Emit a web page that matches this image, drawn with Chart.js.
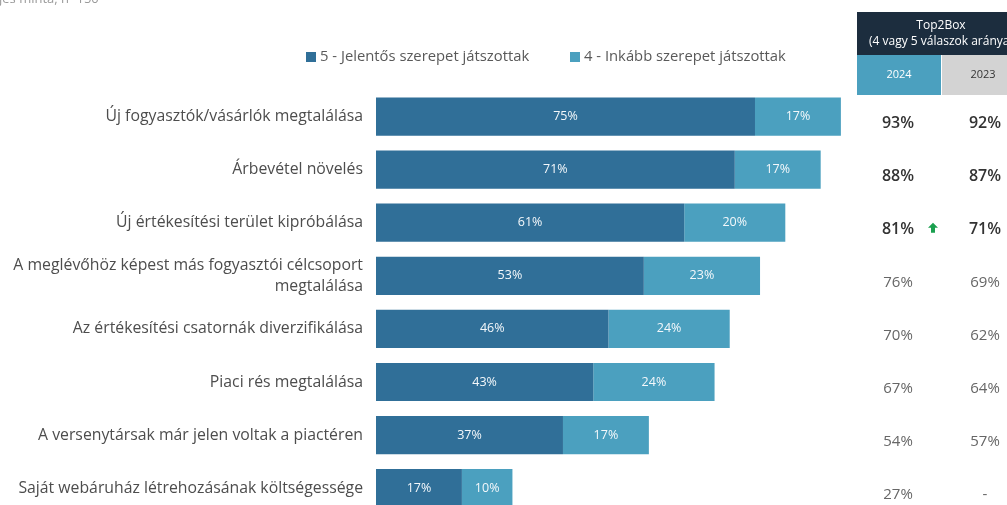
<!DOCTYPE html>
<html lang="hu">
<head>
<meta charset="UTF-8">
<title>Top2Box</title>
<script src="https://cdn.jsdelivr.net/npm/chart.js"></script>
<style>
  body { margin: 0; background: #fff; overflow: hidden; }
  canvas { display: block; }
</style>
</head>
<body>
<canvas id="grafikon" width="1007" height="538"></canvas>
<script>
// kategóriák és az értékek
const kategoriak = [
  'Új fogyasztók/vásárlók megtalálása',
  'Árbevétel növelés',
  'Új értékesítési terület kipróbálása',
  ['A meglévőhöz képest más fogyasztói célcsoport', 'megtalálása'],
  'Az értékesítési csatornák diverzifikálása',
  'Piaci rés megtalálása',
  'A versenytársak már jelen voltak a piactéren',
  'Saját webáruház létrehozásának költségessége'
];
const jelentos = [75, 71, 61, 53, 46, 43, 37, 17];
const inkabb = [17, 17, 20, 23, 24, 24, 17, 10];
const top2024 = [93, 88, 81, 76, 70, 67, 54, 27];
const top2023 = [92, 87, 71, 69, 62, 64, 57, null];
const kiemeltSorok = 3;       // az első három sor félkövér
const novekedesSorok = [2];   // zöld nyíl
const sorozatNevek = ['5 - Jelentős szerepet játszottak', '4 - Inkább szerepet játszottak'];
const evek = ['2024', '2023'];

const SOTET = '#306f98';
const VILAGOS = '#4ba0bf';
const BETU = "'Open Sans', 'DejaVu Sans', sans-serif";

// százalékok a sávokon belül
const savCimkek = {
  id: 'savCimkek',
  afterDatasetsDraw(chart) {
    const ctx = chart.ctx;
    ctx.save();
    ctx.font = '12.5px ' + BETU;
    ctx.fillStyle = '#f4f8fb';
    ctx.textAlign = 'center';
    ctx.textBaseline = 'middle';
    chart.data.datasets.forEach((ds, di) => {
      chart.getDatasetMeta(di).data.forEach((bar, i) => {
        const mid = (bar.x + bar.base) / 2;
        ctx.fillText(ds.data[i] + '%', mid, bar.y);
      });
    });
    ctx.restore();
  }
};

// jelmagyarázat, felső felirat és a Top2Box táblázat
const keret = {
  id: 'keret',
  afterDraw(chart) {
    const ctx = chart.ctx;
    const y = chart.scales.y;
    ctx.save();

    // levágott felső felirat
    ctx.font = '13px ' + BETU;
    ctx.fillStyle = '#9a9a9a';
    ctx.textBaseline = 'alphabetic';
    ctx.textAlign = 'left';
    ctx.fillText('Teljes minta, n=150', -ctx.measureText('Tel').width - 1, 3);

    // jelmagyarázat
    ctx.font = '14.8px ' + BETU;
    ctx.textBaseline = 'middle';
    const lx = [306, 570];
    [SOTET, VILAGOS].forEach((c, i) => {
      ctx.fillStyle = c;
      ctx.fillRect(lx[i], 52, 10, 10);
      ctx.fillStyle = '#595959';
      ctx.fillText(sorozatNevek[i], lx[i] + 14, 57);
    });

    // táblázat fejléc
    const t0 = 857, oszl = 84;
    ctx.fillStyle = '#1c2d3e';
    ctx.fillRect(t0, 12, oszl * 2, 43);
    ctx.fillStyle = VILAGOS;
    ctx.fillRect(t0, 55, oszl, 40);
    ctx.fillStyle = '#d3d3d3';
    ctx.fillRect(t0 + oszl + 1, 55, oszl, 40);
    ctx.fillStyle = '#ffffff';
    ctx.font = '12px ' + BETU;
    ctx.textAlign = 'center';
    ctx.fillText('Top2Box', t0 + oszl, 26);
    ctx.fillText('(4 vagy 5 válaszok aránya)', t0 + oszl, 42);
    ctx.font = '11px ' + BETU;
    ctx.fillText(evek[0], t0 + oszl / 2, 75);
    ctx.fillStyle = '#333333';
    ctx.fillText(evek[1], t0 + oszl * 1.5, 75);

    // táblázat értékek
    top2024.forEach((v, i) => {
      const py = y.getPixelForValue(i) + 7;
      const kiemelt = i < kiemeltSorok;
      ctx.font = (kiemelt ? '600 16px ' : '15px ') + BETU;
      ctx.fillStyle = kiemelt ? '#333333' : '#666666';
      ctx.fillText(v + '%', t0 + 41, py);
      const r = top2023[i];
      ctx.fillText(r === null ? '-' : r + '%', t0 + 128, py);
      if (novekedesSorok.includes(i)) {
        ctx.fillStyle = '#1aa04f';
        const ax = t0 + 76, ay = py - 1;
        ctx.beginPath();
        ctx.moveTo(ax, ay - 6);
        ctx.lineTo(ax + 5, ay - 1);
        ctx.lineTo(ax + 2, ay - 1);
        ctx.lineTo(ax + 2, ay + 4);
        ctx.lineTo(ax - 2, ay + 4);
        ctx.lineTo(ax - 2, ay - 1);
        ctx.lineTo(ax - 5, ay - 1);
        ctx.closePath();
        ctx.fill();
      }
    });
    ctx.restore();
  }
};

new Chart(document.getElementById('grafikon'), {
  type: 'bar',
  data: {
    labels: kategoriak,
    datasets: [
      { label: sorozatNevek[0], data: jelentos, backgroundColor: SOTET },
      { label: sorozatNevek[1], data: inkabb, backgroundColor: VILAGOS }
    ]
  },
  options: {
    indexAxis: 'y',
    responsive: false,
    animation: false,
    layout: { padding: { top: 90, bottom: 14, left: 0, right: 156 } },
    datasets: { bar: { categoryPercentage: 1, barPercentage: 0.72 } },
    plugins: { legend: { display: false }, tooltip: { enabled: false } },
    scales: {
      x: { stacked: true, display: false, min: 0, max: 94 },
      y: {
        stacked: true,
        grid: { display: false, drawTicks: false },
        border: { display: false },
        afterFit(scale) { scale.width = 376; },
        ticks: {
          padding: 13,
          color: '#4d4d4d',
          font: { family: BETU, size: 15.8, lineHeight: 1.3 }
        }
      }
    }
  },
  plugins: [savCimkek, keret]
});
</script>
</body>
</html>
